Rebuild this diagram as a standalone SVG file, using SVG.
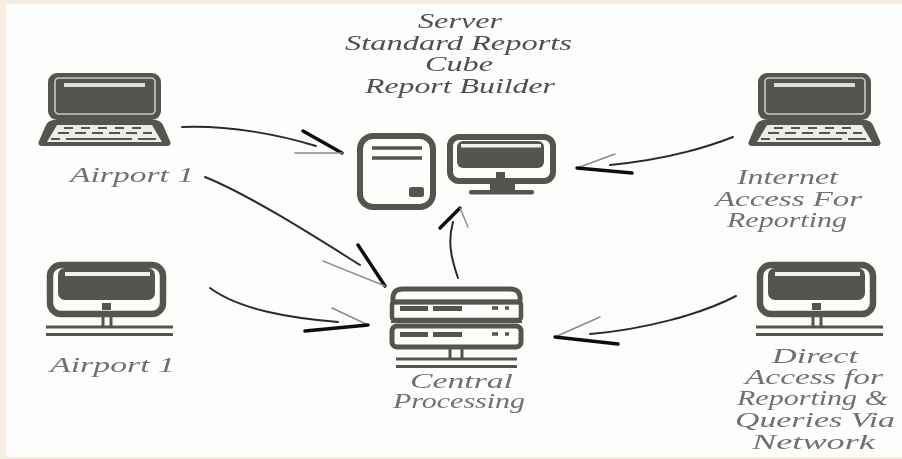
<svg xmlns="http://www.w3.org/2000/svg" width="902" height="459" viewBox="0 0 902 459">
<style>
.d{fill:#53544f}
.o{fill:none;stroke:#53544f}
.l{fill:#dcdcd8}
.w{fill:#fff}
.t{font-family:"Liberation Serif","DejaVu Serif",serif;font-style:italic;font-size:22px;fill:#6f6f6c;text-anchor:start}
.k{fill:#4f4f4c}
.c{fill:none;stroke:#2b2b2b;stroke-linecap:round;stroke-width:2}
.b{fill:none;stroke:#111;stroke-linecap:round;stroke-width:3.5}
.g{fill:none;stroke:#8a8a8a;stroke-linecap:round;stroke-width:1.4}
</style>
<defs>
<filter id="soft" x="0" y="0" width="100%" height="100%"><feGaussianBlur stdDeviation="0.6"/></filter>
<g id="laptop">
<rect width="113" height="47" rx="9" class="d"/>
<rect x="7" y="5" width="100" height="36" rx="4" class="d" stroke="#c9c9c5" stroke-width="1.6"/>
<rect x="16" y="10" width="81" height="4" class="l"/>
<path d="M5 47H108Q113 48 115 52L122 68Q124 73 118 73H-5Q-11 73 -9 68L-2 52Q0 48 5 47Z" class="d"/>
<path d="M9 52H104L114 69H-1Z" fill="#ecece9"/>
<path d="M16 55H100" stroke="#53544f" stroke-width="1.8" stroke-dasharray="9 8" fill="none"/>
<path d="M10 60H104" stroke="#53544f" stroke-width="1.8" stroke-dasharray="11 6" fill="none"/>
<path d="M3 66H12M18 66H84M90 66H108" stroke="#53544f" stroke-width="1.8" fill="none"/>
</g>
<g id="monitor">
<rect x="3" y="3" width="113" height="49" rx="11" class="o" stroke-width="6.5"/>
<rect x="11" y="6" width="97" height="32" rx="7" class="d"/>
<rect x="18" y="10" width="85" height="4" fill="#f0f0ee"/>
<rect x="55" y="41" width="9" height="7" class="d"/>
<path d="M56 54V65M64 54V65" class="o" stroke-width="3"/>
<path d="M-1 65H126M-1 72.500H126" class="o" stroke-width="3"/>
</g>
</defs>
<rect width="902" height="459" fill="#f5ede0"/>
<rect x="6" y="4" width="896" height="453" fill="#fdfdfc"/>
<g filter="url(#soft)">
<g id="connectors">
<path class="c" d="M182 127C230 125 280 135 316 146"/>
<path class="b" d="M303 131L342 153"/>
<path class="g" d="M295 153H342"/>
<path class="c" d="M205 177C250 195 320 240 360 265"/>
<path class="b" stroke-width="4" d="M358 245L385 286"/>
<path class="g" d="M323 261L385 286"/>
<path class="c" d="M210 288C240 310 290 318 338 322"/>
<path class="g" d="M332 308L368 325"/>
<path class="b" d="M305 331L368 325"/>
<path class="c" stroke-width="1.6" d="M458 278C450 255 448 240 453 222"/>
<path class="b" stroke-width="3" d="M440 228L460 208"/>
<path class="g" d="M460 208L468 227"/>
<path class="c" d="M733 137C700 150 660 160 610 165"/>
<path class="g" d="M577 168L615 154"/>
<path class="b" stroke-width="3" d="M577 168L632 173"/>
<path class="c" d="M736 296C700 315 640 330 590 334"/>
<path class="g" d="M555 337L600 317"/>
<path class="b" d="M555 337L618 344"/>
</g>
<g id="node-server-text">
<text class="t k" x="418" y="28" textLength="84" lengthAdjust="spacingAndGlyphs">Server</text>
<text class="t k" x="345" y="50" textLength="227" lengthAdjust="spacingAndGlyphs">Standard Reports</text>
<text class="t k" x="425" y="71" textLength="68" lengthAdjust="spacingAndGlyphs">Cube</text>
<text class="t k" x="365" y="93" textLength="190" lengthAdjust="spacingAndGlyphs">Report Builder</text>
</g>
<g id="node-airport-laptop">
<use href="#laptop" x="48" y="73"/>
<text class="t" x="70" y="182" textLength="124" lengthAdjust="spacingAndGlyphs">Airport 1</text>
</g>
<g id="node-airport-monitor">
<use href="#monitor" x="47" y="262"/>
<text class="t" x="50" y="372" textLength="125" lengthAdjust="spacingAndGlyphs">Airport 1</text>
</g>
<g id="node-internet">
<use href="#laptop" x="758" y="73"/>
<text class="t" x="737" y="184" textLength="101" lengthAdjust="spacingAndGlyphs">Internet</text>
<text class="t" x="715" y="206" textLength="147" lengthAdjust="spacingAndGlyphs">Access For</text>
<text class="t" x="727" y="227" textLength="120" lengthAdjust="spacingAndGlyphs">Reporting</text>
</g>
<g id="node-direct">
<use href="#monitor" x="757" y="262"/>
<text class="t" x="772" y="363" textLength="86" lengthAdjust="spacingAndGlyphs">Direct</text>
<text class="t" x="745" y="384" textLength="138" lengthAdjust="spacingAndGlyphs">Access for</text>
<text class="t" x="737" y="405" textLength="151" lengthAdjust="spacingAndGlyphs">Reporting &amp;</text>
<text class="t" x="735" y="427" textLength="160" lengthAdjust="spacingAndGlyphs">Queries Via</text>
<text class="t" x="752" y="449" textLength="123" lengthAdjust="spacingAndGlyphs">Network</text>
</g>
<g id="node-tower">
<rect x="360" y="136" width="73" height="71" rx="13" class="o" stroke-width="6"/>
<path d="M372 148H422M372 158H422" class="o" stroke-width="3.500"/>
<rect x="409" y="187" width="15" height="10" rx="2.500" class="d"/>
</g>
<g id="node-desktop">
<rect x="450" y="137" width="103" height="44" rx="9" class="o" stroke-width="6"/>
<rect x="457" y="141" width="87" height="27" rx="6" class="d"/>
<rect x="461" y="144" width="80" height="3.500" fill="#f0f0ee"/>
<rect x="496" y="172" width="9" height="6" class="d"/>
<rect x="490" y="183" width="25" height="8" class="d"/>
<rect x="469" y="190" width="65" height="4.500" rx="2" class="d"/>
</g>
<g id="node-central">
<path d="M393 302C392 292 396 289 403 289H510C517 289 521 292 520 302Z" fill="#fff" class="o" stroke-width="5"/>
<rect x="392" y="302" width="129" height="18" rx="3" class="o" stroke-width="4.500"/>
<rect x="392" y="326" width="129" height="21" rx="5" class="o" stroke-width="5"/>
<path d="M391 322H522" class="o" stroke-width="2"/>
<path d="M400 308.500H428M433 308.500H462M400 334.500H428M433 334.500H462" class="o" stroke-width="5"/>
<path d="M492 308H498M505 308H509M492 334H498M505 334H509" class="o" stroke-width="3.500"/>
<path d="M450 349V359M462 349V359" class="o" stroke-width="3"/>
<path d="M396 359H517M396 366.500H517" class="o" stroke-width="3"/>
<text class="t" x="410" y="388" textLength="103" lengthAdjust="spacingAndGlyphs">Central</text>
<text class="t" x="393" y="408" textLength="132" lengthAdjust="spacingAndGlyphs">Processing</text>
</g>
</g>
</svg>
